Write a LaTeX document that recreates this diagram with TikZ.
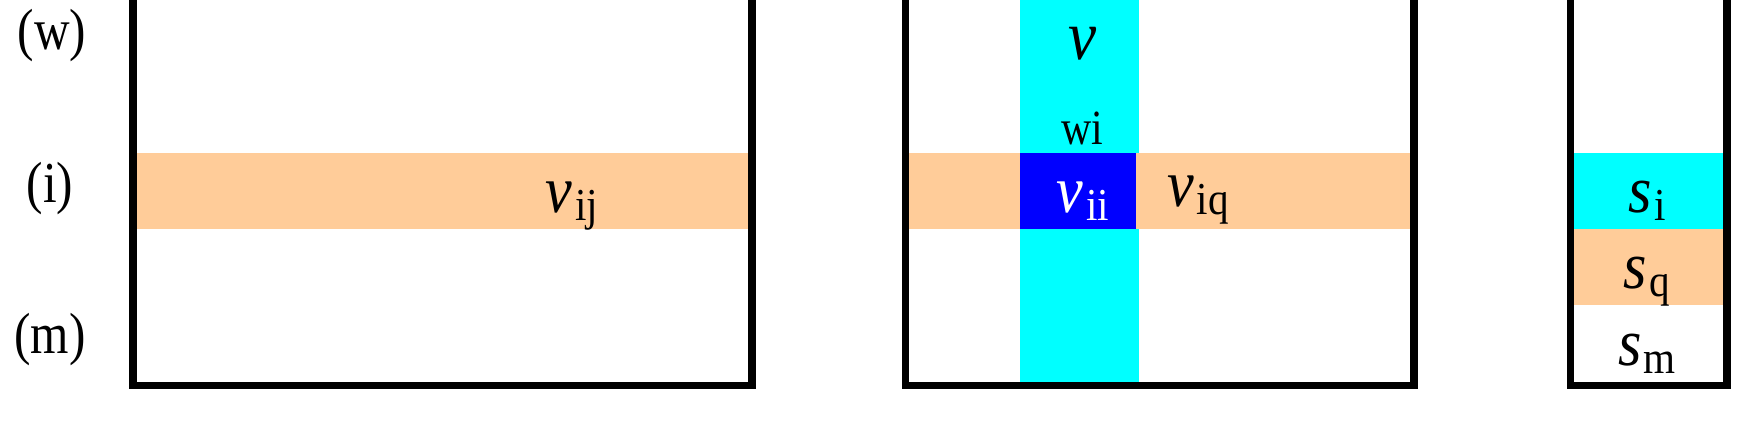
\documentclass[tikz,border=0pt]{standalone}
\usepackage{fontspec}
\setmainfont{Liberation Serif}
\usepackage{tikz}
\usetikzlibrary{positioning}

\definecolor{peach}{HTML}{FFCC99}
\definecolor{aqua}{HTML}{00FFFF}
\definecolor{deepblue}{HTML}{0000FF}

% italic letter with upright index, a little narrower than the font
\newcommand{\symb}[2]{\scalebox{0.9}[1]{{\fontsize{19}{19}\selectfont\textit{#1}}\kern0.8pt\raisebox{-2.3pt}{\fontsize{13}{13}\selectfont #2}}}
\newcommand{\rowtxt}[1]{\scalebox{0.85}[1]{\fontsize{16.5}{16.5}\selectfont #1}}

\tikzset{
    frame/.style={line width=2.15pt, line cap=butt, line join=miter},
    rowlbl/.style={anchor=base, inner sep=0pt},
    entry/.style={anchor=base, inner sep=0pt}
}

\begin{document}
\begin{tikzpicture}[x=0.01cm, y=-0.01cm]
                    \useasboundingbox (0,0) rectangle (1756,429);
                    \clip (0,0) rectangle (1756,429);
                    %left matrix
                    \fill[peach] (137,153) rectangle (748,229);   %row i
                    \draw[frame] (133,-10) -- (133,385.5) -- (752,385.5) -- (752,-10);
                    %middle matrix
                    \fill[aqua] (1020,0) rectangle (1139,382);   %column i
                    \fill[peach] (909,153) rectangle (1410,229);   %row i
                    \fill[deepblue] (1020,153) rectangle (1136,229);   %diagonal
                    \draw[frame] (905.5,-10) -- (905.5,385.5) -- (1414,385.5) -- (1414,-10);
                    %right vector
                    \fill[aqua] (1574,153) rectangle (1723,229);
                    \fill[peach] (1574,229) rectangle (1723,305);
                    \draw[frame] (1570.5,-10) -- (1570.5,385.5) -- (1727,385.5) -- (1727,-10);
                    %row labels
                    \node[rowlbl] (lblw) at (52,49) {\rowtxt{(w)}};
                    \node[rowlbl] (lbli) at (50,202) {\rowtxt{(i)}};
                    \node[rowlbl] (lblm) at (50,353) {\rowtxt{(m)}};
                    %entries
                    \node[entry] (vij) at (572,212) {\symb{v}{ij}};
                    \node[entry] (vcol) at (1083,59) {\scalebox{0.9}[1]{\fontsize{20}{20}\selectfont\textit{v}}};
                    \node[entry] (wi) at (1082,144) {\scalebox{0.85}[1]{\fontsize{14}{14}\selectfont wi}};
                    \node[entry, text=white] (vii) at (1083,212) {\symb{v}{ii}};
                    \node[entry] (viq) at (1198,206) {\symb{v}{iq}};
                    \node[entry] (si) at (1647,212) {\symb{s}{i}};
                    \node[entry] (sq) at (1647,288) {\symb{s}{q}};
                    \node[entry] (sm) at (1647,365) {\symb{s}{m}};
                \end{tikzpicture}
\end{document}
